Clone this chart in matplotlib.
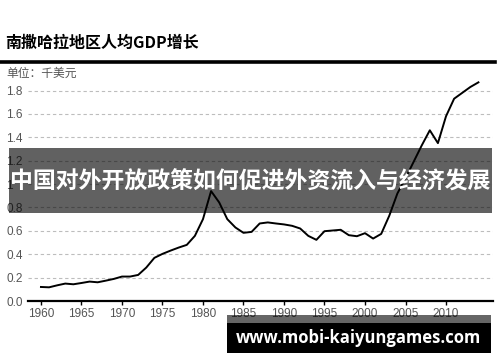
import matplotlib
matplotlib.use('Agg')
import matplotlib.pyplot as plt
from matplotlib.patches import Rectangle
from matplotlib.lines import Line2D

plt.rcParams['font.family'] = ['Liberation Sans', 'Noto Sans CJK SC', 'DejaVu Sans']

# data (thousand US$)
years = list(range(1960, 2015))
gdp = [0.12, 0.117, 0.134, 0.149, 0.143, 0.154, 0.166, 0.16, 0.174, 0.189,
       0.209, 0.209, 0.223, 0.286, 0.369, 0.403, 0.431, 0.457, 0.48, 0.557,
       0.70, 0.94, 0.843, 0.70, 0.629, 0.583, 0.591, 0.663, 0.672, 0.663,
       0.655, 0.643, 0.62, 0.557, 0.523, 0.597, 0.603, 0.609, 0.563, 0.554,
       0.58, 0.534, 0.574, 0.73, 0.92, 1.05, 1.19, 1.33, 1.46, 1.35,
       1.58, 1.73, 1.78, 1.83, 1.87]
ytick_vals = [0.0, 0.2, 0.4, 0.6, 0.8, 1.0, 1.2, 1.4, 1.6, 1.8]
ytick_labels = ['0.0', '0.2', '0.4', '0.6', '0.8', '1', '1.2', '1.4', '1.6', '1.8']
xtick_vals = list(range(1960, 2011, 5))

title = '南撒哈拉地区人均GDP增长'
unit = '单位：千美元'
banner = '中国对外开放政策如何促进外资流入与经济发展'
site = 'www.mobi-kaiyungames.com'

W, H = 500, 362
fig = plt.figure(figsize=(W / 100, H / 100), dpi=100)

def fx(px):
    return px / W

def fy(py):
    return 1 - py / H

ax = fig.add_axes([fx(28), fy(301), fx(493) - fx(28), fy(80) - fy(301)])
ax.plot(years, gdp, color='black', lw=1.4, zorder=3)
ax.set_xlim(1958.4, 2015.8)
ax.set_ylim(0, 1.89)

ax.set_yticks(ytick_vals)
ax.set_yticklabels(ytick_labels, ha='left')
ax.set_xticks(xtick_vals)
ax.tick_params(axis='y', length=0, pad=15.5, labelsize=8.5, labelcolor='#555555')
ax.tick_params(axis='x', length=3, width=1, direction='out', pad=2,
               labelsize=8.5, labelcolor='#555555', color='black')
for s in ['top', 'right', 'left']:
    ax.spines[s].set_visible(False)
ax.spines['bottom'].set_linewidth(1.6)
ax.spines['bottom'].set_zorder(4)
ax.yaxis.grid(True, linestyle=(0, (3, 2.5)), color='#bdbdbd', lw=0.8)
ax.set_axisbelow(True)
ax.get_ygridlines()[0].set_visible(False)

# header
fig.text(fx(5), fy(43), title, fontsize=11.5, fontweight='bold',
         family=['Noto Sans CJK SC'], va='center', ha='left')
fig.add_artist(Line2D([0, fx(495)], [fy(62), fy(62)], color='black', lw=2.6))
fig.text(fx(6), fy(73), unit, fontsize=8.5, color='#555555',
         family=['Noto Sans CJK SC'], va='center', ha='left')

# overlay banner
fig.add_artist(Rectangle((fx(9), fy(213)), fx(492) - fx(9), fy(148) - fy(213),
                         transform=fig.transFigure, facecolor='black', alpha=0.62,
                         edgecolor='none', zorder=5))
fig.text(fx(250), fy(182), banner, fontsize=16.5, fontweight='bold', color='white',
         family=['Noto Sans CJK SC'], va='center', ha='center', zorder=6)

# watermark
fig.add_artist(Rectangle((fx(227), fy(353)), fx(491) - fx(227), fy(315) - fy(353),
                         transform=fig.transFigure, facecolor='black', alpha=0.6,
                         edgecolor='none', zorder=5))
fig.add_artist(Rectangle((fx(227), fy(353)), fx(491) - fx(227), fy(323) - fy(353),
                         transform=fig.transFigure, facecolor='black',
                         edgecolor='none', zorder=5))
fig.text(fx(358), fy(338), site, fontsize=12, fontweight='bold', color='white',
         family=['Open Sans'], va='center', ha='center', zorder=6)

fig.savefig('out.png', dpi=100)
